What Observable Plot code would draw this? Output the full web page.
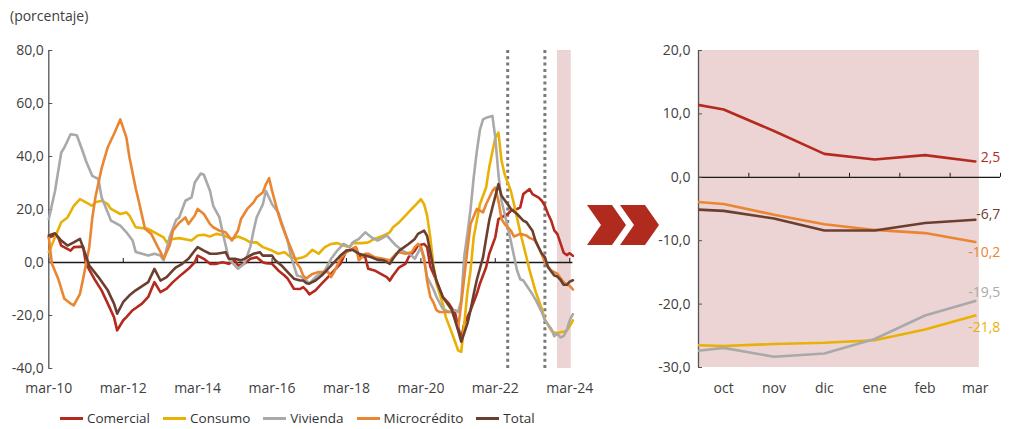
<!DOCTYPE html>
<html>
<head>
<meta charset="utf-8">
<script src="https://cdn.jsdelivr.net/npm/d3@7"></script>
<script src="https://cdn.jsdelivr.net/npm/@observablehq/plot@0.6"></script>
<style>
  body { margin: 0; background: #fff; font-family: "Open Sans", sans-serif; }
  #chart { position: relative; width: 1013px; height: 429px; overflow: hidden; }
  #chart > * { position: absolute; }
  #unidad { left: 10px; top: 6px; font-size: 14px; color: #404040; }
  #izq { left: 0; top: 0; }
  #der { left: 650px; top: 0; }
  #flechas { left: 0; top: 0; }
  #leyenda { left: 60px; top: 409px; display: flex; align-items: center; font-size: 13.5px; color: #333; }
  #leyenda .item { display: flex; align-items: center; margin-right: 13px; }
  #leyenda .sw { width: 23px; height: 3px; margin-right: 4px; }
</style>
</head>
<body>
<div id="chart">
  <div id="unidad">(porcentaje)</div>
</div>
<script>
// Crecimiento anual de la cartera por modalidad, cifras mensuales (mes, %)
const comercial = [
  ["2010-02", 9.5], ["2010-04", 10.2], ["2010-05", 9.5], ["2010-06", 6.4], ["2010-09", 4.5], ["2010-10", 5.8],
  ["2011-01", 6.0], ["2011-02", -0.5], ["2011-05", -6.8], ["2011-07", -10.5], ["2011-09", -15.5], ["2011-11", -20.6],
  ["2011-12", -25.6], ["2012-02", -21.8], ["2012-03", -20.6], ["2012-05", -18.0], ["2012-08", -15.5], ["2012-10", -13.0],
  ["2012-12", -7.4], ["2013-02", -11.2], ["2013-04", -9.9], ["2013-06", -7.4], ["2013-09", -4.3], ["2013-11", -2.4],
  ["2014-01", 0.1], ["2014-02", 2.6], ["2014-04", 1.4], ["2014-06", -0.5], ["2014-08", -0.5], ["2014-10", 0.1],
  ["2014-12", -0.5], ["2015-02", 0.8], ["2015-03", -1.1], ["2015-05", -0.5], ["2015-07", 1.4], ["2015-09", 2.0],
  ["2015-11", 0.1], ["2015-12", -0.3], ["2016-02", -0.5], ["2016-04", -3.0], ["2016-06", -4.9], ["2016-07", -6.1],
  ["2016-09", -9.9], ["2016-11", -10.0], ["2016-12", -9.3], ["2017-01", -10.5], ["2017-02", -12.0], ["2017-04", -10.5],
  ["2017-06", -8.0], ["2017-08", -5.5], ["2017-10", -3.0], ["2017-12", -0.5], ["2018-02", 4.5], ["2018-03", 4.5],
  ["2018-05", 5.8], ["2018-06", 2.6], ["2018-08", 2.0], ["2018-09", -2.4], ["2018-11", -3.0], ["2019-01", -4.3],
  ["2019-03", -5.5], ["2019-04", -6.8], ["2019-05", -4.9], ["2019-07", -1.8], ["2019-09", -0.5], ["2019-10", 2.0],
  ["2019-12", 4.5], ["2020-01", 6.4], ["2020-03", 7.0], ["2020-04", 5.8], ["2020-05", -1.5], ["2020-07", -7.0],
  ["2020-09", -13.0], ["2020-11", -15.5], ["2021-01", -19.3], ["2021-02", -24.3], ["2021-03", -28.7], ["2021-04", -23.0],
  ["2021-06", -18.0], ["2021-08", -11.8], ["2021-09", -8.0], ["2021-11", -1.8], ["2021-12", 3.3], ["2022-02", 9.5],
  ["2022-03", 16.4], ["2022-04", 17.0], ["2022-06", 18.3], ["2022-07", 19.5], ["2022-09", 20.2], ["2022-10", 20.8],
  ["2022-11", 25.8], ["2023-01", 27.7], ["2023-02", 25.8], ["2023-04", 24.5], ["2023-05", 23.3], ["2023-06", 21.4],
  ["2023-07", 18.3], ["2023-08", 15.8], ["2023-09", 12.1], ["2023-10", 10.7], ["2023-11", 7.3], ["2023-12", 3.7],
  ["2024-01", 2.8], ["2024-02", 3.5], ["2024-03", 2.5]
];
const consumo = [
  ["2010-02", 3.9], ["2010-04", 9.5], ["2010-06", 15.2], ["2010-08", 17.0], ["2010-10", 21.4], ["2010-12", 23.9],
  ["2011-02", 22.7], ["2011-04", 21.4], ["2011-05", 22.7], ["2011-07", 23.3], ["2011-09", 22.0], ["2011-10", 20.2],
  ["2012-01", 18.3], ["2012-03", 18.9], ["2012-04", 17.7], ["2012-06", 13.3], ["2012-10", 12.7], ["2012-12", 11.4],
  ["2013-03", 9.5], ["2013-04", 7.6], ["2013-06", 8.9], ["2013-08", 9.2], ["2013-12", 8.3], ["2014-02", 10.2],
  ["2014-04", 10.5], ["2014-06", 9.8], ["2014-08", 10.8], ["2014-10", 10.4], ["2015-01", 8.9], ["2015-03", 9.8],
  ["2015-05", 8.9], ["2015-07", 7.6], ["2015-09", 7.6], ["2015-11", 5.8], ["2016-02", 4.5], ["2016-04", 3.3],
  ["2016-06", 3.9], ["2016-08", 2.0], ["2016-10", 1.4], ["2016-12", 2.0], ["2017-01", 2.6], ["2017-03", 4.8],
  ["2017-05", 3.3], ["2017-07", 5.8], ["2017-09", 7.0], ["2017-11", 7.3], ["2018-01", 6.4], ["2018-03", 5.8],
  ["2018-04", 7.3], ["2018-07", 7.3], ["2018-09", 7.6], ["2018-11", 8.9], ["2019-02", 10.2], ["2019-04", 11.4],
  ["2019-05", 13.3], ["2019-07", 15.2], ["2019-09", 17.7], ["2019-11", 20.2], ["2019-12", 21.4], ["2020-02", 23.9],
  ["2020-03", 22.0], ["2020-04", 17.7], ["2020-05", 9.5], ["2020-06", -1.0], ["2020-07", -8.0], ["2020-09", -15.5],
  ["2020-10", -20.6], ["2020-12", -26.8], ["2021-02", -33.1], ["2021-03", -33.7], ["2021-04", -23.0], ["2021-05", -11.0],
  ["2021-06", -3.0], ["2021-07", 9.5], ["2021-09", 22.0], ["2021-11", 28.3], ["2021-12", 36.0], ["2022-02", 47.1],
  ["2022-03", 49.0], ["2022-04", 38.5], ["2022-05", 33.3], ["2022-07", 27.0], ["2022-08", 22.0], ["2022-10", 11.4],
  ["2022-12", 2.0], ["2023-01", -3.0], ["2023-03", -11.0], ["2023-05", -17.5], ["2023-06", -21.5], ["2023-08", -25.6],
  ["2023-09", -26.4], ["2023-10", -26.6], ["2023-11", -26.3], ["2023-12", -26.1], ["2024-01", -25.7], ["2024-02", -24.0],
  ["2024-03", -21.8]
];
const vivienda = [
  ["2010-02", 16.4], ["2010-04", 27.0], ["2010-06", 41.5], ["2010-07", 43.4], ["2010-09", 48.4], ["2010-11", 48.0],
  ["2011-01", 41.5], ["2011-02", 38.3], ["2011-04", 32.7], ["2011-06", 31.5], ["2011-07", 24.6], ["2011-09", 18.9],
  ["2011-10", 15.8], ["2012-01", 13.9], ["2012-03", 11.4], ["2012-05", 8.3], ["2012-06", 4.0], ["2012-08", 3.3],
  ["2012-10", 2.6], ["2012-12", 3.3], ["2013-02", 2.6], ["2013-03", 0.8], ["2013-05", 9.8], ["2013-07", 16.0],
  ["2013-08", 17.0], ["2013-10", 23.3], ["2013-12", 24.6], ["2014-01", 30.2], ["2014-03", 33.6], ["2014-04", 33.1],
  ["2014-06", 27.0], ["2014-07", 21.4], ["2014-09", 17.0], ["2014-10", 11.5], ["2014-12", 1.4], ["2015-02", -1.1],
  ["2015-03", -2.4], ["2015-05", -0.5], ["2015-06", 2.6], ["2015-07", 6.0], ["2015-08", 12.0], ["2015-09", 17.0],
  ["2015-11", 22.0], ["2015-12", 27.0], ["2016-02", 22.0], ["2016-04", 18.9], ["2016-05", 15.2], ["2016-07", 8.3],
  ["2016-08", 2.5], ["2016-10", -4.9], ["2016-11", -5.2], ["2017-01", -6.8], ["2017-02", -8.0], ["2017-04", -5.5],
  ["2017-07", -3.0], ["2017-09", 1.4], ["2017-11", 4.5], ["2018-01", 7.0], ["2018-03", 5.8], ["2018-04", 7.6],
  ["2018-06", 8.9], ["2018-08", 11.4], ["2018-10", 9.5], ["2018-12", 8.3], ["2019-02", 9.5], ["2019-03", 10.2],
  ["2019-05", 7.6], ["2019-06", 6.4], ["2019-08", 4.5], ["2019-10", 3.3], ["2019-11", 2.6], ["2019-12", 1.4],
  ["2020-02", 5.8], ["2020-03", 0.8], ["2020-04", -5.5], ["2020-06", -10.0], ["2020-07", -13.0], ["2020-09", -17.4],
  ["2020-11", -18.7], ["2021-01", -18.0], ["2021-02", -18.7], ["2021-03", -14.3], ["2021-04", 2.5], ["2021-05", 11.0],
  ["2021-06", 20.0], ["2021-07", 32.0], ["2021-08", 42.0], ["2021-09", 50.0], ["2021-10", 54.0], ["2021-11", 54.6],
  ["2022-01", 55.3], ["2022-02", 47.1], ["2022-03", 33.3], ["2022-04", 23.3], ["2022-06", 13.5], ["2022-07", 8.0],
  ["2022-09", -3.0], ["2022-10", -6.3], ["2022-11", -6.8], ["2022-12", -8.6], ["2023-02", -12.0], ["2023-03", -14.0],
  ["2023-05", -18.7], ["2023-06", -21.8], ["2023-08", -25.0], ["2023-09", -27.8], ["2023-10", -26.9], ["2023-11", -28.3],
  ["2023-12", -27.8], ["2024-01", -25.5], ["2024-02", -21.8], ["2024-03", -19.5]
];
const microcredito = [
  ["2010-02", 9.5], ["2010-03", -0.5], ["2010-05", -6.1], ["2010-07", -13.7], ["2010-09", -15.5], ["2010-10", -16.2],
  ["2010-12", -11.8], ["2011-01", -6.1], ["2011-03", 5.5], ["2011-04", 16.5], ["2011-05", 24.5], ["2011-07", 35.5],
  ["2011-09", 43.5], ["2011-11", 48.5], ["2012-01", 54.0], ["2012-03", 47.1], ["2012-04", 39.6], ["2012-06", 28.0],
  ["2012-07", 23.0], ["2012-08", 17.7], ["2012-09", 12.7], ["2012-11", 10.8], ["2013-01", 6.0], ["2013-02", 4.0],
  ["2013-03", 1.4], ["2013-05", 6.5], ["2013-06", 12.0], ["2013-08", 15.0], ["2013-10", 17.0], ["2013-11", 14.5],
  ["2014-01", 17.7], ["2014-02", 20.2], ["2014-04", 18.3], ["2014-06", 14.5], ["2014-07", 13.3], ["2014-09", 12.0],
  ["2014-11", 11.4], ["2015-01", 8.3], ["2015-03", 12.0], ["2015-04", 16.4], ["2015-06", 20.2], ["2015-08", 22.7],
  ["2015-09", 24.6], ["2015-11", 26.4], ["2015-12", 29.6], ["2016-01", 31.8], ["2016-02", 27.0], ["2016-04", 18.3],
  ["2016-05", 14.5], ["2016-07", 8.3], ["2016-08", 5.5], ["2016-10", -0.5], ["2016-11", -2.0], ["2016-12", -5.0],
  ["2017-01", -6.0], ["2017-03", -4.3], ["2017-05", -3.6], ["2017-08", -3.6], ["2017-09", -5.5], ["2017-10", -3.5],
  ["2017-12", 1.4], ["2018-02", 3.9], ["2018-03", 4.5], ["2018-05", 5.8], ["2018-06", 0.8], ["2018-08", 3.3],
  ["2018-09", 3.3], ["2018-11", 2.0], ["2019-01", 1.6], ["2019-04", 0.8], ["2019-06", 3.3], ["2019-07", 3.9],
  ["2019-09", 3.3], ["2019-11", 3.9], ["2019-12", 5.8], ["2020-01", 7.0], ["2020-02", 5.8], ["2020-03", 2.0],
  ["2020-04", -7.0], ["2020-05", -13.0], ["2020-06", -15.0], ["2020-07", -18.0], ["2020-08", -18.7], ["2020-10", -18.7],
  ["2020-12", -18.7], ["2021-01", -21.8], ["2021-02", -24.9], ["2021-03", -15.5], ["2021-04", -5.5], ["2021-05", 5.0],
  ["2021-06", 14.5], ["2021-08", 20.2], ["2021-10", 18.9], ["2021-11", 22.0], ["2022-01", 27.0], ["2022-02", 28.3],
  ["2022-03", 23.3], ["2022-04", 16.4], ["2022-05", 14.5], ["2022-07", 12.0], ["2022-08", 9.8], ["2022-10", 10.8],
  ["2022-12", 10.2], ["2023-01", 9.3], ["2023-03", 8.3], ["2023-05", 3.0], ["2023-06", 0.1], ["2023-08", -3.0],
  ["2023-09", -3.6], ["2023-10", -4.2], ["2023-11", -5.9], ["2023-12", -7.4], ["2024-01", -8.3], ["2024-02", -8.8],
  ["2024-03", -10.2]
];
const total = [
  ["2010-02", 10.2], ["2010-04", 11.0], ["2010-06", 8.3], ["2010-08", 6.4], ["2010-10", 7.6], ["2010-12", 8.9],
  ["2011-02", 2.6], ["2011-03", -1.1], ["2011-06", -5.5], ["2011-09", -10.5], ["2011-11", -15.5], ["2011-12", -19.3],
  ["2012-02", -14.9], ["2012-04", -12.4], ["2012-06", -10.5], ["2012-10", -7.4], ["2012-12", -2.4], ["2013-02", -6.8],
  ["2013-04", -5.5], ["2013-06", -3.0], ["2013-07", -1.8], ["2013-09", -0.5], ["2013-11", 1.4], ["2014-01", 4.5],
  ["2014-02", 5.8], ["2014-04", 4.5], ["2014-06", 3.3], ["2014-08", 3.3], ["2014-11", 3.9], ["2014-12", 1.4],
  ["2015-02", 1.4], ["2015-04", 0.8], ["2015-05", 1.4], ["2015-08", 3.3], ["2015-10", 3.9], ["2015-11", 2.6],
  ["2016-02", 2.6], ["2016-03", 0.8], ["2016-05", -1.1], ["2016-07", -3.6], ["2016-09", -6.1], ["2016-11", -6.8],
  ["2016-12", -6.8], ["2017-01", -7.8], ["2017-02", -8.0], ["2017-04", -6.8], ["2017-06", -4.9], ["2017-08", -2.4],
  ["2017-10", 0.1], ["2017-12", 2.6], ["2018-02", 4.5], ["2018-04", 4.8], ["2018-06", 3.3], ["2018-08", 2.6],
  ["2018-10", 2.0], ["2018-12", 1.0], ["2019-02", 0.8], ["2019-04", -0.5], ["2019-05", 1.4], ["2019-07", 4.5],
  ["2019-10", 7.0], ["2019-12", 8.9], ["2020-01", 10.8], ["2020-03", 12.0], ["2020-04", 10.0], ["2020-05", 4.0],
  ["2020-06", -2.0], ["2020-07", -7.0], ["2020-09", -13.0], ["2020-12", -18.0], ["2021-02", -25.6], ["2021-03", -29.9],
  ["2021-05", -23.0], ["2021-06", -18.0], ["2021-07", -12.0], ["2021-08", -6.5], ["2021-10", 2.0], ["2021-11", 9.0],
  ["2021-12", 16.0], ["2022-01", 20.8], ["2022-03", 29.6], ["2022-04", 25.2], ["2022-06", 22.0], ["2022-07", 20.2],
  ["2022-09", 18.3], ["2022-11", 15.8], ["2022-12", 15.2], ["2023-02", 12.0], ["2023-03", 8.0], ["2023-05", 3.3],
  ["2023-06", 2.0], ["2023-07", -1.8], ["2023-09", -4.9], ["2023-10", -5.3], ["2023-11", -6.5], ["2023-12", -8.4],
  ["2024-01", -8.4], ["2024-02", -7.2], ["2024-03", -6.7]
];

// Meses señalados con líneas punteadas y tramo resaltado
const marcas = ["2022-06", "2023-06"];
const resaltado = ["2023-10", "2024-02"];
// Detalle de los últimos meses
const recientes = ["2023-09", "2023-10", "2023-11", "2023-12", "2024-01", "2024-02", "2024-03"];
const etiquetasMes = ["oct", "nov", "dic", "ene", "feb", "mar"];
const ticksIzq = [-40, -20, 0, 20, 40, 60, 80];
const ticksDer = [-30, -20, -10, 0, 10, 20];
const aniosEje = [2010, 2012, 2014, 2016, 2018, 2020, 2022, 2024];

const series = [
  { nombre: "Comercial", color: "#b52a1e", valores: comercial, dy: -3.5 },
  { nombre: "Consumo", color: "#e9b005", valores: consumo, dy: 12 },
  { nombre: "Vivienda", color: "#a9a9a9", valores: vivienda, dy: -8.7 },
  { nombre: "Microcrédito", color: "#ea8531", valores: microcredito, dy: 11 },
  { nombre: "Total", color: "#6b3f30", valores: total, dy: -5.7 }
];

const parseMes = d3.utcParse("%Y-%m");
// cada dato mensual se ubica al cierre de su mes
const cierre = (m) => d3.utcMonth.offset(parseMes(m), 1);
const coma = (v) => v.toFixed(1).replace(".", ",");
const nombres = series.map((s) => s.nombre);
const colores = series.map((s) => s.color);

const filas = series.flatMap((s) =>
  s.valores.map(([mes, valor]) => ({ serie: s.nombre, mes, fecha: cierre(mes), valor }))
);

const estilo = { fontFamily: "'Open Sans', sans-serif", fontSize: "14px", color: "#404040", background: "transparent", overflow: "visible" };
const rosa = "#edd4d4";

// Panel principal: serie completa
const izqW = 590, izqML = 48.3, izqMR = 17.6;
const izq = Plot.plot({
  width: izqW, height: 400,
  marginLeft: izqML, marginRight: izqMR, marginTop: 50, marginBottom: 32,
  style: estilo,
  x: { type: "utc", domain: [parseMes("2010-03"), parseMes("2024-04")], label: null },
  y: { domain: [-40, 80], label: null },
  color: { domain: nombres, range: colores },
  marks: [
    Plot.rect([resaltado], {
      x1: (d) => cierre(d[0]),
      x2: (d) => d3.utcDay.offset(cierre(d[1]), 15),
      fill: rosa
    }),
    Plot.ruleX(marcas, { x: (d) => cierre(d), stroke: "#7a7a7a", strokeWidth: 3, strokeDasharray: "3,3.3" }),
    Plot.ruleY([0], { stroke: "#1a1a1a", strokeWidth: 1.3 }),
    Plot.ruleX(aniosEje, { x: (a) => new Date(Date.UTC(a, 2, 1)), y1: 0, y2: 1.5, stroke: "#1a1a1a" }),
    Plot.ruleX([parseMes("2010-03")], { stroke: "#555", strokeWidth: 1.3 }),
    Plot.tickY(ticksIzq, { y: (d) => d, insetRight: izqW - izqML - izqMR - 4, stroke: "#555" }),
    Plot.axisY({ ticks: ticksIzq, tickFormat: coma, tickSize: 0, tickPadding: 5, label: null }),
    Plot.axisX({
      ticks: aniosEje.map((a) => new Date(Date.UTC(a, 2, 1))),
      tickFormat: (d) => "mar-" + String(d.getUTCFullYear()).slice(2),
      tickSize: 0, tickPadding: 15, label: null
    }),
    Plot.line(filas, { x: "fecha", y: "valor", z: "serie", stroke: "serie", strokeWidth: 2.6, strokeLinejoin: "round" })
  ]
});
izq.id = "izq";

// Panel de detalle: últimos meses
const derW = 363, derML = 48, derMR = 13;
const filasDer = filas
  .filter((d) => recientes.includes(d.mes))
  .map((d) => ({ ...d, i: recientes.indexOf(d.mes) }));
const ultimo = recientes.length - 1;

const der = Plot.plot({
  width: derW, height: 400,
  marginLeft: derML, marginRight: derMR, marginTop: 50, marginBottom: 33,
  style: estilo,
  x: { domain: [0.5, ultimo + 0.5], label: null },
  y: { domain: [-30, 20], label: null },
  color: { domain: nombres, range: colores },
  marks: [
    Plot.rect([ultimo], { x1: 0.5, x2: (d) => d + 0.08, fill: rosa }),
    Plot.ruleY([0], { stroke: "#1a1a1a", strokeWidth: 1.3 }),
    Plot.ruleX(d3.range(1.5, ultimo + 1, 1), { x: (d) => d, y1: 0, y2: 0.63, stroke: "#1a1a1a" }),
    Plot.ruleX([0.5], { stroke: "#555", strokeWidth: 1.3 }),
    Plot.tickY(ticksDer, { y: (d) => d, insetRight: derW - derML - derMR - 4, stroke: "#555" }),
    Plot.axisY({ ticks: ticksDer, tickFormat: coma, tickSize: 0, tickPadding: 8, label: null }),
    Plot.axisX({
      ticks: d3.range(1, ultimo + 1),
      tickFormat: (i) => etiquetasMes[i - 1],
      tickSize: 0, tickPadding: 16, label: null
    }),
    Plot.line(filasDer, { x: "i", y: "valor", z: "serie", stroke: "serie", strokeWidth: 2.6, clip: true }),
    ...series.map((s) =>
      Plot.text(filasDer.filter((d) => d.serie === s.nombre && d.i === ultimo), {
        x: "i", y: "valor", text: (d) => coma(d.valor),
        fill: s.color, dx: 25, dy: s.dy, textAnchor: "end", fontSize: 14
      })
    )
  ]
});
der.id = "der";

const chart = document.getElementById("chart");
chart.append(izq, der);

// Flechas de enlace entre paneles
const ns = "http://www.w3.org/2000/svg";
const flechas = document.createElementNS(ns, "svg");
flechas.setAttribute("id", "flechas");
flechas.setAttribute("width", 1013);
flechas.setAttribute("height", 429);
[0, 33].forEach((dx) => {
  const p = document.createElementNS(ns, "polygon");
  p.setAttribute("points", [[587, 205], [612, 205], [626, 225], [612, 245], [587, 245], [601, 225]]
    .map(([x, y]) => `${x + dx},${y}`).join(" "));
  p.setAttribute("fill", "#b02b1e");
  flechas.appendChild(p);
});
chart.appendChild(flechas);

// Leyenda
const leyenda = document.createElement("div");
leyenda.id = "leyenda";
series.forEach((s) => {
  const item = document.createElement("div");
  item.className = "item";
  const sw = document.createElement("div");
  sw.className = "sw";
  sw.style.background = s.color;
  const t = document.createElement("span");
  t.textContent = s.nombre;
  item.append(sw, t);
  leyenda.appendChild(item);
});
chart.appendChild(leyenda);
</script>
</body>
</html>
